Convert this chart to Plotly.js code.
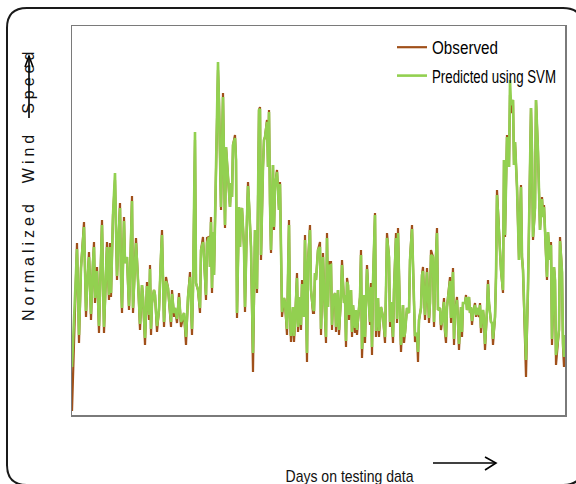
<!DOCTYPE html>
<html>
<head>
<meta charset="utf-8">
<script src="https://cdn.plot.ly/plotly-3.0.1.min.js"></script>
<style>
html,body{margin:0;padding:0;background:#fff;overflow:hidden;}
#chart{width:576px;height:484px;}
</style>
</head>
<body>
<div id="chart"></div>
<script>
// Day index on the testing data (x)
const days = [0,5,7,9,12,14,15,17,18,19,21,22,23,25,27,30,32,35,37,38,39,41,43,45,46,48,49,50,52,53,55,57,58,60,61,63,64,66,68,70,71,73,75,77,78,79,80,82,83,85,87,89,90,92,94,96,97,99,
100,102,103,105,107,109,112,114,116,118,120,121,123,124,126,128,129,131,132,134,135,137,138,139,140,141,142,143,144,146,147,149,151,153,154,155,156,158,159,160,161,163,164,165,167,168,169,170,172,173,175,176,177,179,181,182,183,185,187,188,189,191,192,193,195,196,197,198,199,201,
202,203,205,206,207,208,210,212,213,215,217,218,219,221,222,223,225,226,228,229,230,232,233,235,236,238,239,241,242,243,244,246,248,249,251,252,254,255,256,257,259,260,261,263,264,266,267,269,270,272,273,274,275,276,277,279,280,281,283,284,285,287,288,289,290,292,293,295,297,298,299,300,
301,303,304,306,307,309,311,313,314,315,317,318,319,321,322,324,325,326,328,329,331,332,333,335,337,338,340,342,343,345,346,347,349,350,351,353,354,355,357,358,359,361,362,363,365,366,368,369,370,372,373,374,375,377,378,379,381,382,383,385,386,387,389,390,391,393,394,395,397,398,399,
400,401,403,404,405,407,408,409,411,412,413,415,416,417,419,420,421,423,424,425,427,428,429,431,432,433,434,435,437,438,439,441,442,443,445,446,447,449,450,451,453,454,456,457,459,460,461,463,464,466,467,468,470,471,472,474,475,476,478,479,480,482,483,484,486,487,488,490,491,492,493];

// Observed normalized wind speed (arbitrary units, axis has no ticks)
const observed = [4,172,72,147,193,98,125,163,132,95,153,173,112,148,82,195,82,173,115,172,118,200,235,135,165,212,138,102,198,152,158,105,138,219,102,145,177,135,85,130,118,70,133,95,150,80,112,125,120,83,105,160,185,88,138,127,112,88,
125,98,107,92,122,88,102,70,118,143,80,125,275,132,125,102,165,178,158,115,177,178,148,198,122,183,140,188,232,345,315,205,322,187,268,250,245,208,232,218,270,280,255,97,208,168,202,207,168,103,198,233,212,168,43,148,185,122,305,308,155,248,275,278,295,248,305,212,162,250,
185,228,245,225,205,233,98,117,112,80,195,98,73,108,73,92,142,83,118,85,135,98,180,53,152,190,125,102,102,142,135,165,173,80,162,125,72,182,108,153,153,85,115,122,83,125,80,118,155,112,120,68,137,130,95,125,78,110,82,105,80,107,118,165,57,120,72,150,112,90,132,60,
133,202,78,117,78,108,98,72,125,182,158,88,113,72,125,182,92,187,98,63,110,72,82,107,102,155,190,102,73,82,53,95,107,140,148,95,117,147,92,112,165,158,88,135,187,105,107,85,93,117,82,72,108,125,138,92,147,70,102,118,90,65,108,78,112,112,120,105,118,102,108,
90,102,112,98,107,98,112,82,105,95,65,105,135,112,93,92,70,98,138,225,185,167,145,122,255,178,245,280,248,320,302,315,250,273,228,195,155,230,158,145,68,38,127,202,307,262,175,207,315,263,220,185,218,198,210,168,135,183,155,173,70,148,135,50,78,85,178,143,68,48,80];

// Predicted using SVM
const predicted = [48,166,80,147,188,104,125,158,132,101,153,168,117,144,89,190,88,168,120,168,122,200,242,139,165,207,138,107,194,152,158,109,138,214,107,145,172,135,91,130,118,77,129,100,146,86,112,125,120,89,105,160,180,93,134,127,112,93,
121,102,107,96,118,93,102,78,118,138,86,125,283,132,125,107,165,173,158,120,172,178,148,193,127,183,140,188,232,353,310,208,318,190,268,250,245,208,232,218,270,277,255,102,208,168,202,207,168,108,198,229,212,168,62,148,185,126,305,306,160,248,275,278,293,248,303,212,165,250,
188,228,243,225,205,231,103,117,112,86,190,98,79,108,79,92,137,88,118,90,131,98,175,62,152,185,125,106,104,142,135,165,168,86,158,125,78,177,108,149,150,90,115,122,88,125,85,118,150,112,120,74,133,130,100,125,83,110,87,105,85,107,118,160,66,120,78,146,112,93,128,68,
133,200,84,117,84,108,98,78,125,177,158,93,113,78,125,177,96,182,98,70,110,78,82,107,102,155,186,102,79,82,63,95,107,140,144,100,117,143,97,112,160,158,93,135,182,105,107,90,93,113,85,78,108,125,134,97,143,76,102,115,90,71,108,83,112,112,118,105,118,102,108,
94,102,110,100,107,100,110,87,105,95,71,105,131,112,93,92,76,98,138,220,185,167,145,125,255,180,245,278,248,335,310,315,250,273,228,195,155,228,158,145,72,55,127,202,307,262,178,207,315,263,220,185,216,198,208,168,138,183,155,170,76,148,135,60,80,85,174,143,72,58,80];

const seriesNames = ['Observed', 'Predicted using SVM'];

// Layout helpers (pixel -> paper) for decorative frame and arrows
const M = {l:72, r:11, t:26, b:69, autoexpand: false};
const W = 576, H = 484;
const pw = W - M.l - M.r, ph = H - M.t - M.b;
const px = x => (x - M.l) / pw;
const py = y => (H - M.b - y) / ph;

function roundRect(x0, y0, x1, y1, r) {
  const p = (x, y) => px(x).toFixed(5) + ',' + py(y).toFixed(5);
  return 'M' + p(x0 + r, y0) + ' L' + p(x1 - r, y0) + ' Q' + p(x1, y0) + ' ' + p(x1, y0 + r) +
    ' L' + p(x1, y1 - r) + ' Q' + p(x1, y1) + ' ' + p(x1 - r, y1) +
    ' L' + p(x0 + r, y1) + ' Q' + p(x0, y1) + ' ' + p(x0, y1 - r) +
    ' L' + p(x0, y0 + r) + ' Q' + p(x0, y0) + ' ' + p(x0 + r, y0) + ' Z';
}
function poly(pts) {
  return pts.map((q, i) => (i ? 'L' : 'M') + px(q[0]).toFixed(5) + ',' + py(q[1]).toFixed(5)).join(' ');
}

const traces = [
  {x: days, y: observed, type: 'scatter', mode: 'lines', name: seriesNames[0],
   legendgroup: 'a', line: {color: '#A0501A', width: 2.2}},
  {x: days, y: predicted, type: 'scatter', mode: 'lines', name: seriesNames[1],
   legendgroup: 'b', line: {color: '#92D050', width: 2.6}}
];

const layout = {
  width: W, height: H,
  margin: M,
  paper_bgcolor: '#ffffff', plot_bgcolor: '#ffffff',
  showlegend: true,
  legend: {x: px(392), y: py(29), xanchor: 'left', yanchor: 'top',
           bgcolor: 'rgba(0,0,0,0)', tracegroupgap: 2, traceorder: 'grouped',
           font: {family: '"Liberation Sans", Arial, sans-serif', size: 18, color: '#000'}},
  xaxis: {range: [0, 493], showgrid: false, zeroline: false, showticklabels: false, ticks: '',
          showline: true, mirror: true, linecolor: '#7a7a7a', linewidth: 1.5},
  yaxis: {range: [0, 389], showgrid: false, zeroline: false, showticklabels: false, ticks: '',
          showline: true, mirror: true, linecolor: '#7a7a7a', linewidth: 1.5},
  annotations: [
    {text: 'Normalized\u00A0\u00A0Wind\u00A0\u00A0Speed', xref: 'paper', yref: 'paper',
     x: px(28), y: py(185), textangle: -90, showarrow: false, xanchor: 'center', yanchor: 'middle',
     font: {family: '"Liberation Sans", Arial, sans-serif', size: 16, color: '#111'}},
    {text: 'Days on testing data', xref: 'paper', yref: 'paper',
     x: px(350), y: py(476), showarrow: false, xanchor: 'center', yanchor: 'middle',
     font: {family: '"Liberation Sans", Arial, sans-serif', size: 17, color: '#111'}}
  ],
  shapes: [
    {type: 'path', xref: 'paper', yref: 'paper', path: roundRect(7, 8, 583, 485, 20),
     line: {color: '#1a1a1a', width: 2}, layer: 'below'},
    {type: 'path', xref: 'paper', yref: 'paper', path: poly([[433,463],[496,463]]),
     line: {color: '#000', width: 1.6}},
    {type: 'path', xref: 'paper', yref: 'paper', path: poly([[485,457],[496,463],[485,470]]),
     line: {color: '#000', width: 1.6}},
    {type: 'path', xref: 'paper', yref: 'paper', path: poly([[29,118],[29,56]]),
     line: {color: '#000', width: 1.6}},
    {type: 'path', xref: 'paper', yref: 'paper', path: poly([[25,67],[29,56],[33,67]]),
     line: {color: '#000', width: 1.6}}
  ]
};

// Condensed look of the original's legend and x-title text
const condensed = {'Observed': 66, 'Predicted using SVM': 124, 'Days on testing data': 128};

Plotly.newPlot('chart', traces, layout, {staticPlot: true, displayModeBar: false}).then(() => {
  const t = document.querySelectorAll('.annotation-text')[0];
  if (t) t.style.letterSpacing = '4px';
  document.querySelectorAll('.legendtext, .annotation-text').forEach(el => {
    const w = condensed[el.textContent];
    if (w) {
      el.setAttribute('textLength', w);
      el.setAttribute('lengthAdjust', 'spacingAndGlyphs');
    }
  });
});
</script>
</body>
</html>
